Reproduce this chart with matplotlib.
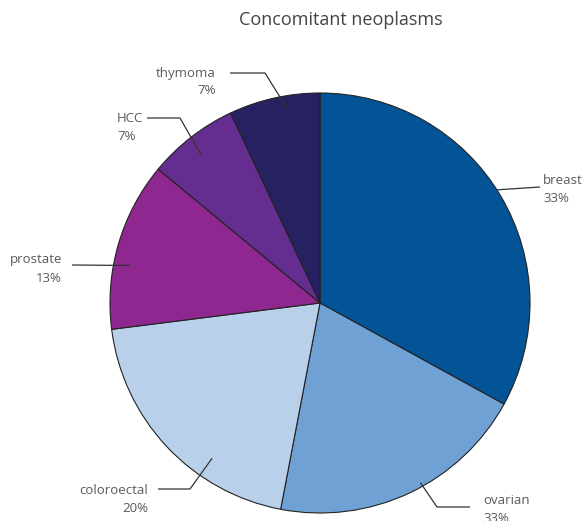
import numpy as np
import matplotlib
matplotlib.use('Agg')
import matplotlib.pyplot as plt

# slice data, clockwise from 12 o'clock
names = ['breast', 'ovarian', 'coloroectal', 'prostate', 'HCC', 'thymoma']
values = [33, 20, 20, 13, 7, 7]
pct_labels = ['33%', '33%', '20%', '13%', '7%', '7%']
colors = ['#035496', '#6fa1d4', '#b9d0ea', '#8e278f', '#662d91', '#262262']

W, H = 583, 521
cx, cy, R = 320, H - 303, 210

# leader layout: angle shift, radial frac, elbow (x,y), line end (x,y), text (x,y), ha
layout = {
    'breast':      (2,   1.00, None,       (540, 187), (543, 180), 'left'),
    'ovarian':     (4,   0.98, (437, 507), (470, 507), (483, 500), 'left'),
    'coloroectal': (12,  0.90, (190, 489), (158, 489), (148, 490), 'right'),
    'prostate':    (5,   0.92, None,       (72, 265),  (62, 260),  'right'),
    'HCC':         (1,   0.90, (180, 118), (147, 118), (117, 118), 'left'),
    'thymoma':     (-3,  0.94, (265, 73),  (230, 73),  (216, 73),  'right'),
}

txt_col = '#5a5a5a'
plt.rcParams['font.family'] = ['Open Sans', 'DejaVu Sans']

fig = plt.figure(figsize=(W / 100, H / 100), dpi=100)
ax = fig.add_axes([0, 0, 1, 1])

wedges, _ = ax.pie(values, colors=colors, startangle=90, counterclock=False,
                   center=(cx, cy), radius=R,
                   wedgeprops=dict(edgecolor='#222222', linewidth=0.8))
ax.set_xlim(0, W)
ax.set_ylim(0, H)
ax.set_aspect('equal')
ax.axis('off')

for w, name, pct in zip(wedges, names, pct_labels):
    shift, frac, elbow, end, tpos, ha = layout[name]
    mid = np.deg2rad((w.theta1 + w.theta2) / 2 + shift)
    sx = cx + R * frac * np.cos(mid)
    sy = cy + R * frac * np.sin(mid)
    xs, ys = [sx], [sy]
    if elbow is not None:
        xs.append(elbow[0]); ys.append(H - elbow[1])
    xs.append(end[0]); ys.append(H - end[1])
    ax.plot(xs, ys, color='#333333', lw=0.9, solid_capstyle='butt')
    ax.text(tpos[0], H - tpos[1], name, ha=ha, va='center',
            color=txt_col, fontsize=9.5)
    ax.text(tpos[0], H - tpos[1] - 18, pct, ha=ha, va='center',
            color=txt_col, fontsize=9.5)

ax.text(341, H - 20, 'Concomitant neoplasms', ha='center', va='center',
        color='#444444', fontsize=13)

fig.savefig('out.png', dpi=100)
